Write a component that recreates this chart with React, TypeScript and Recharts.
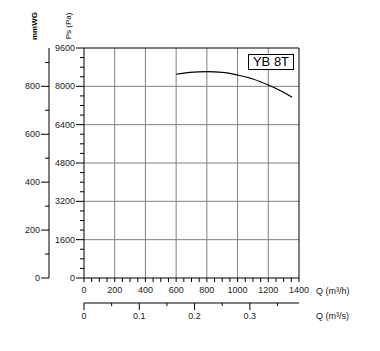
import { LineChart, Line, XAxis, YAxis, ReferenceLine, Label } from 'recharts';

// fan curve
const flowM3h = [600, 690, 800, 900, 1000, 1100, 1200, 1300, 1355];
const pressurePa = [8503, 8585, 8611, 8585, 8473, 8306, 8056, 7750, 7542];

const qTicks = [0, 50, 100, 150, 200, 250, 300, 350, 400, 450, 500, 550, 600, 650, 700, 750, 800, 850, 900, 950, 1000, 1050, 1100, 1150, 1200, 1250, 1300, 1350, 1400];
const qsTicks = [0, 0.05, 0.1, 0.15, 0.2, 0.25, 0.3, 0.35];
const paTicks = [0, 400, 800, 1200, 1600, 2000, 2400, 2800, 3200, 3600, 4000, 4400, 4800, 5200, 5600, 6000, 6400, 6800, 7200, 7600, 8000, 8400, 8800, 9200, 9600];
const mmTicks = [0, 100, 200, 300, 400, 500, 600, 700, 800, 900];
const gridQ = [200, 400, 600, 800, 1000, 1200];
const gridPa = [1600, 3200, 4800, 6400, 8000];

const data = flowM3h.map((q, i) => ({ q, pa: pressurePa[i] }));

const FONT = '"Liberation Sans", Arial, sans-serif';

const BottomTick = ({ x, y, payload, major, len, gap }: any) => (
    <g>
        <line x1={x} y1={y} x2={x} y2={y + len} stroke="#000" />
        {major && (
            <text x={x} y={y + gap} dy="0.71em" textAnchor="middle" fontSize={9} fontFamily={FONT} fill="#222">
                {payload.value}
            </text>
        )}
    </g>
);

const LeftTick = ({ x, y, payload, major }: any) => (
    <g>
        <line x1={x} y1={y} x2={x - (major ? 8 : 4)} y2={y} stroke="#000" />
        {major && (
            <text x={x - 9} y={y} dy="0.35em" textAnchor="end" fontSize={9} fontFamily={FONT} fill="#222">
                {payload.value}
            </text>
        )}
    </g>
);

const VTitle = ({ viewBox, text, dx, bold }: any) => (
    <text
        transform={`translate(${viewBox.x + dx},${viewBox.y - 22}) rotate(-90)`}
        textAnchor="middle"
        dy="0.35em"
        fontSize={8}
        fontWeight={bold ? 'bold' : 'normal'}
        fontFamily={FONT}
        fill="#000"
    >
        {text}
    </text>
);

function App() {
    return (
        <div style={{ position: 'relative', width: 372, height: 343 }}>
            <LineChart width={372} height={343} data={data} margin={{ top: 40, right: 81, left: 0, bottom: 22 }}>
                <XAxis
                    xAxisId="q"
                    dataKey="q"
                    type="number"
                    domain={[0, 1400]}
                    ticks={qTicks}
                    interval={0}
                    height={25}
                    tickSize={0}
                    tickMargin={0}
                    tickLine={false}
                    axisLine={{ stroke: '#000' }}
                    tick={(p: any) => <BottomTick {...p} major={p.payload.value % 200 === 0} len={4} gap={8.5} />}
                >
                    <Label value="Q (m³/h)" position="right" offset={17} fontSize={9} fontFamily={FONT} fill="#222" />
                </XAxis>
                <XAxis
                    xAxisId="qs"
                    dataKey={(d: any) => d.q / 3600}
                    type="number"
                    domain={[0, 1400 / 3600]}
                    allowDataOverflow
                    ticks={qsTicks}
                    interval={0}
                    height={26}
                    tickSize={0}
                    tickMargin={0}
                    tickLine={false}
                    axisLine={{ stroke: '#000' }}
                    tick={(p: any) => {
                        const major = Math.round(p.payload.value * 100) % 10 === 0;
                        return <BottomTick {...p} major={major} len={major ? 7 : 3} gap={10} />;
                    }}
                >
                    <Label value="Q (m³/s)" position="right" offset={17} fontSize={9} fontFamily={FONT} fill="#222" />
                </XAxis>
                <YAxis
                    yAxisId="z_mm"
                    type="number"
                    domain={[0, 960]}
                    allowDataOverflow
                    ticks={mmTicks}
                    interval={0}
                    width={41}
                    tickSize={0}
                    tickMargin={0}
                    tickLine={false}
                    axisLine={{ stroke: '#000' }}
                    tick={(p: any) => <LeftTick {...p} major={p.payload.value % 200 === 0} />}
                >
                    <Label content={(p: any) => <VTitle {...p} text="mmWG" dx={26} bold />} />
                </YAxis>
                <YAxis
                    yAxisId="a_pa"
                    type="number"
                    domain={[0, 9600]}
                    ticks={paTicks}
                    interval={0}
                    width={35}
                    tickSize={0}
                    tickMargin={0}
                    tickLine={false}
                    axisLine={{ stroke: '#000' }}
                    tick={(p: any) => <LeftTick {...p} major={p.payload.value % 1600 === 0} />}
                >
                    <Label content={(p: any) => <VTitle {...p} text="Ps (Pa)" dx={19.5} />} />
                </YAxis>
                {gridQ.map((q) => (
                    <ReferenceLine key={'gx' + q} xAxisId="q" yAxisId="a_pa" x={q} stroke="#808080" />
                ))}
                {gridPa.map((v) => (
                    <ReferenceLine key={'gy' + v} xAxisId="q" yAxisId="a_pa" y={v} stroke="#808080" />
                ))}
                <ReferenceLine xAxisId="q" yAxisId="a_pa" y={9600} stroke="#000" />
                <ReferenceLine xAxisId="q" yAxisId="a_pa" x={1400} stroke="#000" />
                <Line
                    xAxisId="q"
                    yAxisId="a_pa"
                    dataKey="pa"
                    type="monotone"
                    stroke="#000"
                    strokeWidth={1.2}
                    dot={false}
                    isAnimationActive={false}
                />
            </LineChart>
            <div
                style={{
                    position: 'absolute',
                    left: 240,
                    top: 46,
                    width: 46,
                    height: 16,
                    boxSizing: 'border-box',
                    border: '1px solid #000',
                    background: '#fff',
                    fontFamily: FONT,
                    fontSize: 13,
                    lineHeight: '14px',
                    textAlign: 'center',
                }}
            >
                YB 8T
            </div>
        </div>
    );
}

export default App;
